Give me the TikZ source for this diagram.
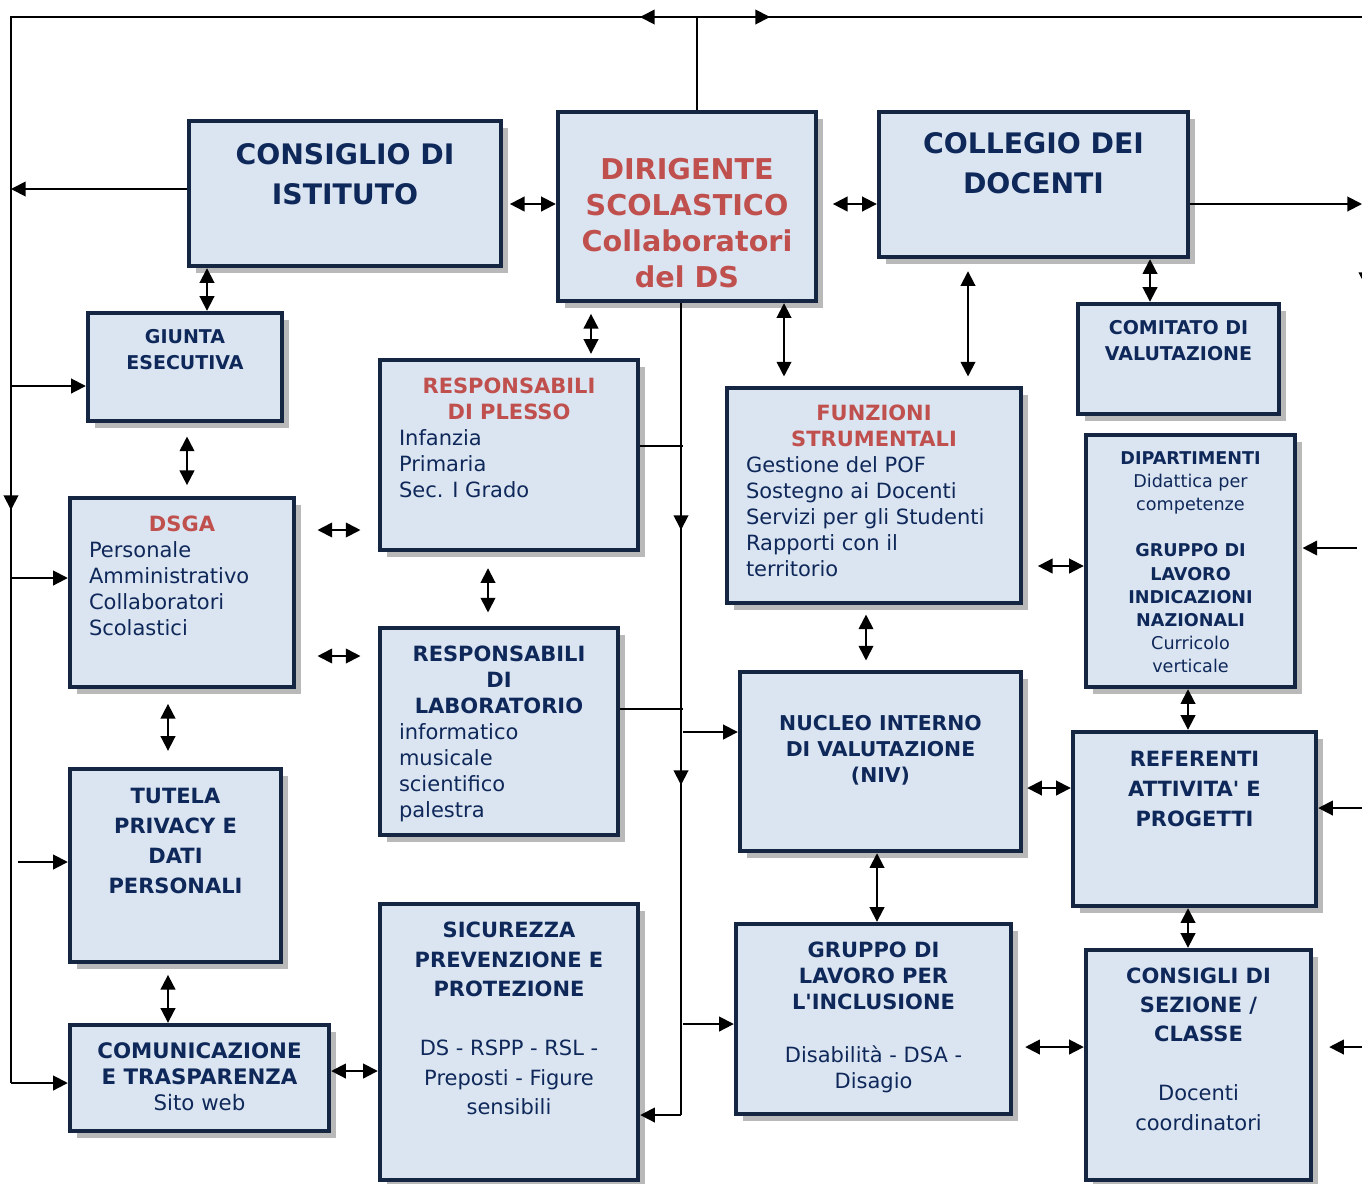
\documentclass[tikz,border=0pt]{standalone}
\usepackage{fontspec}
\setmainfont{DejaVu Sans}
\usetikzlibrary{arrows.meta,positioning,calc,shadows}

\definecolor{navytxt}{RGB}{15,40,90}
\definecolor{redtxt}{RGB}{192,80,77}
\definecolor{boxline}{RGB}{20,38,66}
\definecolor{boxfill}{RGB}{219,229,241}

\newlength{\unitpx}
\setlength{\unitpx}{0.75pt}
% width, height, top pad (px), font size, line skip, text
\newcommand{\boxtxt}[6]{\begin{minipage}[c][#2\unitpx][t]{#1\unitpx}\fontsize{#4}{#5}\selectfont\vspace*{#3\unitpx}\strut#6\end{minipage}}
\newcommand{\ttl}[1]{{\centering\bfseries #1\par}}
\newcommand{\ctr}[1]{{\centering #1\par}}
\newcommand{\items}[1]{{\raggedright\leftskip=19\unitpx #1\par}}

\tikzset{
  blk/.style={draw=boxline, line width=3.3pt, fill=boxfill, inner sep=0pt, text=navytxt,
    drop shadow={shadow xshift=5pt, shadow yshift=-5pt, fill=gray!55, opacity=1}},
  lnk/.style={line width=1.4pt},
  bus/.style={line width=1pt},
  arr/.style={lnk, -{Triangle[length=11pt,width=11pt]}},
  dbl/.style={lnk, {Triangle[length=11pt,width=11pt]}-{Triangle[length=11pt,width=11pt]}}
}

\begin{document}
\begin{tikzpicture}[x=0.75pt, y=-0.75pt]
\useasboundingbox (0,0) rectangle (1362,1183);

% boxes
\node[blk] (cdi) at (345,193.5) {\boxtxt{312}{145}{15}{21.2pt}{30pt}{\ttl{CONSIGLIO DI\\ISTITUTO}}};
\node[blk] (ds) at (687,206.5) {\boxtxt{258}{189}{41.8}{21.5pt}{27pt}{\ttl{\color{redtxt}DIRIGENTE\\SCOLASTICO\\Collaboratori\\del DS}}};
\node[blk] (cdd) at (1033.5,184.5) {\boxtxt{309}{145}{13}{21.2pt}{30pt}{\ttl{COLLEGIO DEI\\DOCENTI}}};
\node[blk] (giunta) at (185,367) {\boxtxt{194}{108}{11.8}{14.25pt}{19.5pt}{\ttl{GIUNTA\\ESECUTIVA}}};
\node[blk] (plesso) at (509,455) {\boxtxt{258}{190}{14.8}{15.75pt}{19.5pt}{\ttl{\color{redtxt}RESPONSABILI\\DI PLESSO}\items{Infanzia\\Primaria\\Sec. I Grado}}};
\node[blk] (funz) at (874,495.5) {\boxtxt{294}{215}{13.8}{15.75pt}{19.5pt}{\ttl{\color{redtxt}FUNZIONI\\STRUMENTALI}\items{Gestione del POF\\Sostegno ai Docenti\\Servizi per gli Studenti\\Rapporti con il\\territorio}}};
\node[blk] (comit) at (1178.5,359) {\boxtxt{201}{110}{11.8}{14.25pt}{19.5pt}{\ttl{COMITATO DI\\VALUTAZIONE}}};
\node[blk] (dsga) at (182,592.5) {\boxtxt{224}{189}{14.8}{15.75pt}{19.5pt}{\ttl{\color{redtxt}DSGA}\items{Personale\\Amministrativo\\Collaboratori\\Scolastici}}};
\node[blk] (dip) at (1190.5,561) {\boxtxt{209}{252}{12.8}{13.2pt}{17.4pt}{\ttl{DIPARTIMENTI}\ctr{Didattica per\\competenze}\vspace{\baselineskip}\ttl{GRUPPO DI\\LAVORO\\INDICAZIONI\\NAZIONALI}\ctr{Curricolo\\verticale}}};
\node[blk] (lab) at (499,731.5) {\boxtxt{238}{207}{14.8}{15.75pt}{19.5pt}{\ttl{RESPONSABILI\\DI\\LABORATORIO}\items{informatico\\musicale\\scientifico\\palestra}}};
\node[blk] (niv) at (880.5,761.5) {\boxtxt{281}{179}{39.8}{15.3pt}{19.5pt}{\ttl{NUCLEO INTERNO\\DI VALUTAZIONE\\(NIV)}}};
\node[blk] (refer) at (1194.5,819) {\boxtxt{243}{174}{13}{15.75pt}{22.5pt}{\ttl{REFERENTI\\ATTIVITA\textquotesingle{} E\\PROGETTI}}};
\node[blk] (tutela) at (175.5,865.5) {\boxtxt{211}{193}{13}{15.75pt}{22.5pt}{\ttl{TUTELA\\PRIVACY E\\DATI\\PERSONALI}}};
\node[blk] (sic) at (509,1042) {\boxtxt{258}{276}{13.3}{15.75pt}{22.1pt}{\ttl{SICUREZZA\\PREVENZIONE E\\PROTEZIONE}\vspace{\baselineskip}\ctr{DS - RSPP - RSL -\\Preposti - Figure\\sensibili}}};
\node[blk] (incl) at (873.5,1019) {\boxtxt{275}{190}{14.6}{15.75pt}{19.7pt}{\ttl{GRUPPO DI\\LAVORO PER\\L\textquotesingle INCLUSIONE}\vspace{\baselineskip}\ctr{Disabilità - DSA -\\Disagio}}};
\node[blk] (cds) at (1198.5,1065) {\boxtxt{225}{230}{12.35}{15.75pt}{22.1pt}{\ttl{CONSIGLI DI\\SEZIONE /\\CLASSE}\vspace{\baselineskip}\ctr{Docenti\\coordinatori}}};
\node[blk] (com) at (199.5,1078) {\boxtxt{259}{106}{14.8}{16pt}{19.5pt}{\ttl{COMUNICAZIONE\\E TRASPARENZA}\ctr{Sito web}}};

\coordinate (tl) at (11,17);
\coordinate (tr) at (1366,17);
\coordinate (bl) at (11,1083);
\coordinate (dstop) at (697,17);
\coordinate (cbus) at (681,1115);
\coordinate (rbus) at (1366,1047);

% top line and left bus
\draw[bus] (dstop |- ds.north) -- (dstop);
\draw[bus] (tr) -- (tl) -- (bl);
\draw[arr] (dstop) -- ++(-57,0);
\draw[arr] (dstop) -- ++(73,0);
\draw[arr] (11,447) -- (11,510);
\draw[arr] (bl) -- (bl -| com.west);
\draw[arr] (cdi.west |- 0,189) -- (tl |- 0,189);
\draw[arr] (11,386) -- (giunta.west |- 0,386);
\draw[arr] (11,578) -- (dsga.west |- 0,578);
\draw[arr] (18,862) -- (tutela.west |- 0,862);

% line down from the DS
\draw[bus] (ds.south -| cbus) -- (cbus);
\draw[arr] (cbus) -- (cbus -| sic.east);
\draw[arr] (681,463) -- (681,530);
\draw[arr] (681,708) -- (681,785);
\draw[bus] (plesso.east |- 0,446) -- (683,446);
\draw[bus] (lab.east |- 0,709) -- (683,709);
\draw[arr] (683,732) -- (niv.west |- 0,732);
\draw[arr] (683,1024) -- (incl.west |- 0,1024);

% right side
\draw[arr] (cdd.east |- 0,204) -- (1362,204);
\draw[bus] (1366,204) -- (rbus);
\draw[arr] (1366,230) -- (1366,287);
\draw[arr, shorten >=4pt] (1357,548) -- (dip.east |- 0,548);
\draw[arr] (rbus |- 0,808) -- (refer.east |- 0,808);
\draw[arr, shorten >=12pt] (rbus) -- (cds.east |- rbus);

% two-way links
\draw[dbl, shorten <=5pt] (cdi.east |- 0,204) -- (ds.west |- 0,204);
\draw[dbl, shorten <=11pt] (ds.east |- 0,204) -- (cdd.west |- 0,204);
\draw[dbl] (cdi.south -| 207,0) -- (giunta.north -| 207,0);
\draw[dbl, shorten <=8pt, shorten >=3pt] (ds.south -| 591,0) -- (plesso.north -| 591,0);
\draw[dbl, shorten >=7pt] (ds.south -| 784,0) -- (funz.north -| 784,0);
\draw[dbl, shorten <=9pt, shorten >=7pt] (cdd.south -| 968,0) -- (funz.north -| 968,0);
\draw[dbl] (cdd.south -| 1150,0) -- (comit.north -| 1150,0);
\draw[dbl, shorten <=10pt, shorten >=8pt] (giunta.south -| 187,0) -- (dsga.north -| 187,0);
\draw[dbl, shorten <=16pt, shorten >=13pt] (dsga.east |- 0,530) -- (plesso.west |- 0,530);
\draw[dbl, shorten <=16pt, shorten >=13pt] (dsga.east |- 0,656) -- (lab.west |- 0,656);
\draw[dbl, shorten <=12pt, shorten >=10pt] (plesso.south -| 488,0) -- (lab.north -| 488,0);
\draw[dbl, shorten <=11pt] (funz.east |- 0,566) -- (dip.west |- 0,566);
\draw[dbl, shorten <=7pt, shorten >=7pt] (funz.south -| 866,0) -- (niv.north -| 866,0);
\draw[dbl] (dip.south -| 1188,0) -- (refer.north -| 1188,0);
\draw[dbl, shorten <=3pt] (niv.east |- 0,788) -- (refer.west |- 0,788);
\draw[dbl] (niv.south -| 877,0) -- (incl.north -| 877,0);
\draw[dbl] (refer.south -| 1188,0) -- (cds.north -| 1188,0);
\draw[dbl, shorten <=9pt] (incl.east |- 0,1047) -- (cds.west |- 0,1047);
\draw[dbl, shorten <=11pt, shorten >=12pt] (dsga.south -| 168,0) -- (tutela.north -| 168,0);
\draw[dbl, shorten <=8pt] (tutela.south -| 168,0) -- (com.north -| 168,0);
\draw[dbl] (com.east |- 0,1071) -- (sic.west |- 0,1071);
\end{tikzpicture}
\end{document}
